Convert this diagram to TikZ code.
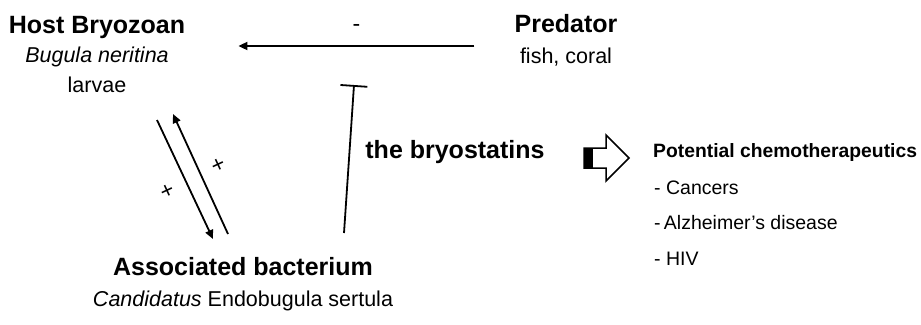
\documentclass[tikz,border=0pt]{standalone}
\usepackage{fontspec}
\setmainfont{Liberation Sans}
\usepackage{tikz}
\usetikzlibrary{arrows.meta, positioning}

\begin{document}
\begin{tikzpicture}[
  x=1pt, y=-1pt,
  titletext/.style={font=\fontsize{25}{30}\selectfont\bfseries, inner sep=0pt, anchor=base},
  subtext/.style={font=\fontsize{21.5}{26}\selectfont, inner sep=0pt, anchor=base},
  listhead/.style={font=\fontsize{19.3}{23}\selectfont\bfseries, inner sep=0pt, anchor=base west},
  listitem/.style={font=\fontsize{19.5}{23}\selectfont, inner sep=0pt, anchor=base west},
  signlabel/.style={font=\fontsize{23}{23}\selectfont, inner sep=0pt},
  arrow/.style={-{Triangle[length=9pt, width=8pt]}, line width=1.8pt},
  inhibit/.style={-{Bar[width=27pt]}, line width=1.8pt},
]
\useasboundingbox (0,0) rectangle (921,324);

% Host
\node[titletext] (host) at (97,33) {Host Bryozoan};
\node[subtext] (hostsp) at ([shift={(0,29)}]host.base) {\itshape Bugula neritina};
\node[subtext] (hostst) at ([shift={(0,30)}]hostsp.base) {larvae};

% Predator
\node[titletext] (pred) at (566,32) {Predator};
\node[subtext] (predex) at ([shift={(0,31)}]pred.base) {fish, coral};

% Bacterium
\node[titletext] (bact) at (243,275) {Associated bacterium};
\node[subtext] (bactsp) at ([shift={(0,31)}]bact.base) {\textit{Candidatus} Endobugula sertula};

% Compounds
\node[titletext] (bryo) at (455,158) {the bryostatins};

% Block arrow
\fill (584,148) rectangle (593,168);
\draw[line width=1.5pt, miter limit=10] (584,148) -- (606,148) -- (606,135) -- (629,158)
  -- (606,181) -- (606,168) -- (584,168) -- cycle;

% Uses
\node[listhead] (potential) at (653,157) {Potential chemotherapeutics};
\node[listitem] (cancer) at ([shift={(1,37)}]potential.base west) {- Cancers};
\node[listitem] (alz) at ([shift={(0,35)}]cancer.base west) {-\,Alzheimer’s disease};
\node[listitem] (hiv) at ([shift={(0,36)}]alz.base west) {- HIV};

% Arrows
\draw[arrow] ([shift={(-40,14)}]pred.base west) -- node[signlabel, above=14pt] (minus) {-} ([shift={(53,13)}]host.base east);
\draw[arrow] ([shift={(60,28)}]hostst.base) -- node[signlabel, xshift=-17.5pt, yshift=-12.5pt, rotate=25] (plusdown) {+} ([shift={(-30,-36)}]bact.base);
\draw[arrow] ([shift={(-15,-41)}]bact.base) -- node[signlabel, xshift=18pt, yshift=8pt, rotate=25] (plusup) {+} ([shift={(76,22)}]hostst.base);

\coordinate (blockpt) at (354,85);
\draw[inhibit] ([shift={(101,-42)}]bact.base) -- (blockpt);

\end{tikzpicture}
\end{document}
